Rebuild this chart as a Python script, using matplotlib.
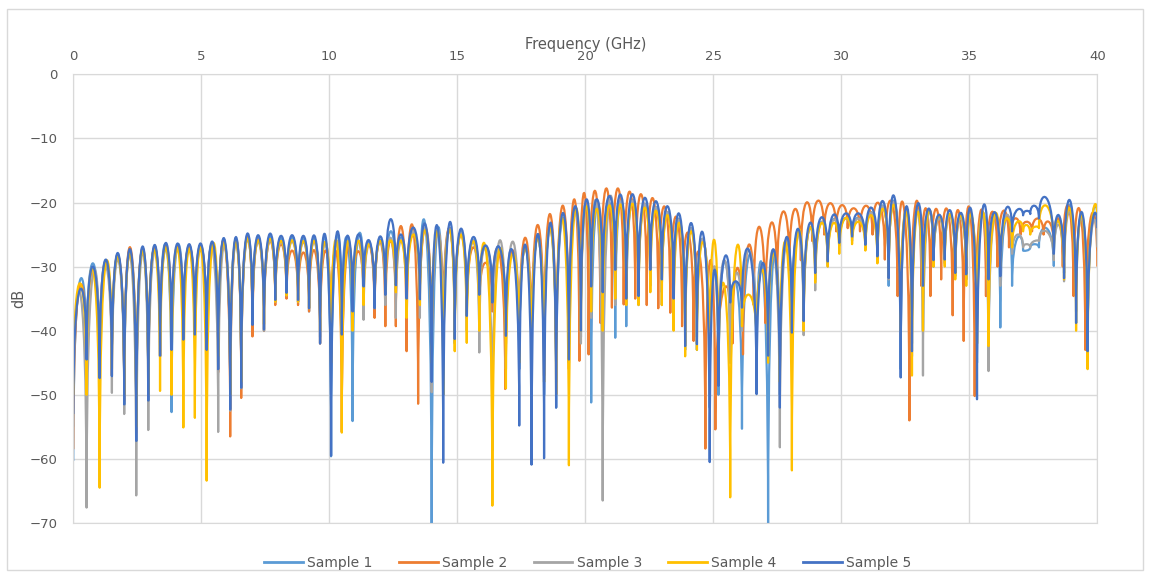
import matplotlib
matplotlib.use('Agg')
import matplotlib.pyplot as plt
from matplotlib.path import Path
from matplotlib.patches import PathPatch, Rectangle
from matplotlib.lines import Line2D

plt.rcParams['font.family'] = ['DejaVu Sans']

labels = ['Sample 1', 'Sample 2', 'Sample 3', 'Sample 4', 'Sample 5']
colors = ['#5B9BD5', '#ED7D31', '#A5A5A5', '#FFC000', '#4472C4']

# frequencies (GHz) of the nulls; samples 1, 3, 4, 5 share them
f_null = [0.00, 0.52, 1.03, 1.51, 1.99, 2.46, 2.93, 3.39, 3.84, 4.30,
          4.75, 5.21, 5.66, 6.13, 6.56, 7.00, 7.45, 7.89, 8.33, 8.78,
          9.21, 9.64, 10.07, 10.49, 10.91, 11.34, 11.77, 12.19, 12.60, 13.02,
          13.54, 14.00, 14.45, 14.90, 15.37, 15.86, 16.37, 16.90, 17.42, 17.90,
          18.39, 18.86, 19.36, 19.83, 20.23, 20.68, 21.17, 21.60, 22.08, 22.54,
          22.99, 23.45, 23.90, 24.36, 24.86, 25.20, 25.66, 26.12, 26.69, 27.14,
          27.60, 28.07, 28.53, 28.98, 29.47, 29.92, 30.42, 30.94, 31.41, 31.85,
          32.32, 32.76, 33.19, 33.60, 34.04, 34.45, 34.88, 35.30, 35.75, 36.21,
          36.67, 37.10, 37.38, 37.72, 38.30, 38.70, 39.17, 39.62, 40.00]

# sample 2 drifts a little ahead above ~13 GHz
f_null_s2 = [0.00, 0.52, 1.03, 1.51, 1.99, 2.46, 2.93, 3.39, 3.84, 4.30,
             4.75, 5.21, 5.66, 6.13, 6.56, 7.00, 7.45, 7.89, 8.33, 8.78,
             9.21, 9.64, 10.07, 10.49, 10.91, 11.34, 11.77, 12.19, 12.60, 13.02,
             13.47, 14.00, 14.45, 14.90, 15.37, 15.86, 16.37, 16.87, 17.42, 17.90,
             18.39, 18.86, 19.36, 19.77, 20.13, 20.59, 21.04, 21.50, 21.95, 22.40,
             22.85, 23.32, 23.78, 24.23, 24.69, 25.08, 25.75, 26.16, 26.58, 27.03,
             27.49, 27.97, 28.42, 28.86, 29.33, 29.80, 30.25, 30.73, 31.22, 31.70,
             32.20, 32.66, 33.12, 33.48, 33.90, 34.35, 34.78, 35.21, 35.65, 36.10,
             36.55, 37.00, 37.45, 37.90, 38.30, 38.65, 39.07, 39.53, 40.00]

# dB at each null
s1_null = [-60.3, -45.0, -47.5, -47.0, -51.6, -57.3, -51.0, -44.0, -52.7, -41.5,
           -41.0, -43.0, -46.0, -52.5, -49.0, -39.0, -40.0, -35.5, -34.5, -35.5,
           -37.0, -42.0, -59.6, -41.0, -54.1, -34.0, -37.0, -35.0, -33.0, -36.0,
           -36.0, -72.0, -50.0, -42.0, -38.0, -35.0, -36.0, -42.0, -46.0, -48.0,
           -50.0, -52.0, -45.0, -41.0, -51.2, -40.0, -41.1, -39.3, -36.0, -32.0,
           -34.0, -36.0, -43.0, -43.0, -52.0, -50.0, -45.0, -55.3, -46.0, -72.0,
           -50.0, -41.0, -39.0, -32.0, -29.5, -26.5, -25.5, -27.0, -29.0, -33.0,
           -46.0, -42.0, -40.0, -30.0, -29.0, -31.0, -32.0, -45.0, -44.0, -39.5,
           -33.0, -27.5, -27.0, -27.0, -29.9, -31.0, -38.8, -43.0, -22.5]
s2_null = [-58.5, -47.0, -47.0, -47.0, -51.0, -56.0, -50.0, -44.0, -43.5, -42.0,
           -41.0, -43.5, -46.5, -56.5, -50.5, -40.9, -40.0, -36.0, -35.0, -36.0,
           -37.0, -42.0, -42.0, -55.8, -36.0, -35.0, -38.0, -39.3, -39.3, -43.2,
           -51.4, -45.0, -42.0, -40.0, -38.0, -36.0, -37.0, -49.1, -44.0, -46.0,
           -47.0, -49.9, -46.0, -44.7, -43.7, -38.8, -36.4, -35.9, -35.0, -36.0,
           -36.5, -37.2, -39.3, -41.6, -58.4, -55.4, -42.0, -43.7, -36.0, -38.8,
           -32.8, -30.5, -29.0, -26.0, -25.0, -24.5, -24.0, -24.5, -25.0, -28.9,
           -34.6, -54.0, -33.0, -34.6, -32.0, -37.6, -41.6, -50.2, -34.6, -30.0,
           -27.0, -25.0, -24.5, -25.0, -27.0, -30.0, -34.6, -43.0, -30.0]
s3_null = [-55.0, -67.6, -47.0, -49.7, -53.0, -65.7, -55.5, -44.0, -43.0, -42.0,
           -41.0, -43.0, -55.8, -52.5, -49.0, -38.9, -40.0, -35.5, -34.5, -35.5,
           -36.5, -41.0, -45.0, -40.0, -37.0, -38.3, -36.5, -36.0, -38.0, -36.0,
           -38.0, -49.6, -45.0, -41.0, -40.0, -43.4, -58.7, -46.0, -45.0, -47.0,
           -48.0, -48.0, -45.0, -42.0, -38.0, -66.5, -36.0, -36.0, -35.0, -33.0,
           -36.0, -38.0, -42.0, -41.0, -50.0, -45.0, -45.0, -40.0, -45.0, -42.0,
           -58.2, -41.0, -40.7, -33.7, -30.0, -26.8, -26.0, -27.0, -29.0, -32.0,
           -41.0, -44.0, -47.0, -30.0, -29.5, -31.5, -32.0, -42.0, -46.3, -33.0,
           -28.0, -27.0, -27.0, -26.0, -29.0, -32.3, -37.0, -43.0, -27.0]
s4_null = [-50.0, -50.0, -64.5, -46.0, -50.0, -55.0, -50.0, -49.4, -50.0, -55.1,
           -53.6, -63.4, -44.0, -50.0, -48.0, -39.0, -39.0, -35.5, -34.5, -35.5,
           -36.5, -40.0, -45.0, -55.9, -40.0, -36.0, -36.0, -34.0, -34.0, -38.0,
           -36.0, -45.0, -50.0, -43.2, -41.9, -40.0, -67.3, -49.0, -45.0, -47.0,
           -48.0, -50.0, -61.0, -40.0, -37.0, -40.0, -35.0, -36.0, -36.0, -34.0,
           -36.0, -40.0, -44.0, -43.0, -47.0, -47.8, -66.0, -39.3, -42.0, -45.0,
           -48.0, -61.8, -40.0, -32.5, -30.0, -28.0, -26.5, -27.5, -29.5, -31.5,
           -40.0, -47.0, -40.0, -30.0, -30.0, -32.0, -33.0, -42.0, -42.4, -30.0,
           -27.0, -24.5, -25.0, -24.0, -27.0, -32.0, -40.0, -46.0, -22.5]
s5_null = [-53.0, -44.5, -47.4, -47.1, -51.5, -57.2, -50.9, -43.9, -43.0, -41.4,
           -40.6, -43.0, -46.0, -52.3, -48.9, -39.1, -39.8, -35.2, -34.1, -35.2,
           -36.5, -42.0, -59.5, -40.6, -37.0, -33.1, -36.5, -34.4, -32.9, -35.0,
           -35.1, -48.0, -60.6, -41.3, -37.7, -34.4, -35.6, -40.8, -54.8, -60.9,
           -59.9, -52.0, -44.5, -40.0, -33.1, -34.0, -30.5, -35.0, -34.6, -30.5,
           -32.0, -35.0, -42.4, -42.1, -60.5, -48.6, -35.6, -36.4, -49.9, -43.9,
           -52.0, -40.3, -38.5, -31.0, -29.2, -26.3, -25.3, -26.6, -28.4, -31.8,
           -47.3, -43.2, -33.0, -29.0, -28.9, -31.0, -31.2, -50.7, -32.0, -31.5,
           -24.5, -22.0, -21.8, -22.5, -28.0, -31.8, -38.8, -43.2, -24.0]

# dB at the top of each lobe (between two nulls)
s1_peak = [-32.2, -29.5, -29.0, -28.2, -27.6, -27.2, -27.0, -26.6, -26.7, -26.8,
           -26.7, -26.4, -25.9, -25.7, -25.4, -25.5, -25.3, -25.6, -25.5, -25.6,
           -25.6, -25.7, -25.5, -25.7, -25.5, -26.3, -25.8, -24.5, -25.5, -24.5,
           -24.2, -24.3, -24.0, -24.6, -25.9, -27.0, -27.2, -27.8, -27.0, -25.4,
           -23.8, -22.4, -21.3, -20.4, -20.3, -19.9, -19.7, -19.6, -20.2, -20.7,
           -21.5, -22.6, -24.0, -25.8, -30.5, -29.2, -32.5, -28.2, -30.0, -28.0,
           -26.2, -24.8, -24.0, -23.0, -22.6, -22.4, -22.4, -21.5, -20.5, -20.0,
           -21.2, -21.0, -21.6, -22.4, -21.8, -22.2, -22.1, -21.5, -22.1, -22.5,
           -25.5, -27.5, -26.5, -24.0, -22.5, -20.5, -22.0, -22.0]
s2_peak = [-33.0, -30.3, -29.2, -28.2, -27.0, -27.2, -27.0, -26.6, -26.7, -26.8,
           -26.7, -26.4, -26.0, -25.8, -25.5, -25.8, -26.0, -26.5, -27.5, -27.8,
           -27.5, -27.5, -27.8, -27.5, -27.6, -26.5, -26.0, -25.9, -23.7, -23.5,
           -24.0, -24.5, -24.0, -25.0, -27.0, -29.4, -27.5, -27.5, -25.5, -23.5,
           -21.8, -20.5, -19.5, -18.5, -18.2, -17.8, -17.8, -18.3, -18.7, -19.3,
           -20.6, -22.2, -24.7, -28.1, -29.0, -33.5, -30.2, -26.7, -23.8, -23.2,
           -21.4, -21.0, -20.0, -19.7, -20.1, -20.4, -20.9, -20.5, -20.1, -19.8,
           -20.4, -20.4, -20.9, -21.0, -21.0, -21.2, -20.7, -21.5, -21.5, -21.3,
           -22.5, -23.0, -22.5, -23.0, -22.5, -20.5, -21.0, -22.0]
s3_peak = [-34.0, -31.0, -29.9, -28.9, -28.3, -27.9, -27.7, -27.3, -27.4, -27.5,
           -27.4, -27.1, -26.6, -26.4, -26.0, -26.1, -25.9, -26.2, -26.1, -26.2,
           -26.2, -26.3, -26.0, -26.2, -26.0, -26.5, -26.0, -25.5, -25.8, -24.5,
           -24.2, -24.3, -24.1, -24.7, -26.0, -27.0, -26.1, -26.1, -27.0, -25.5,
           -24.0, -22.5, -21.3, -20.5, -20.5, -20.0, -19.8, -19.7, -20.3, -20.8,
           -21.5, -22.7, -24.0, -25.8, -30.0, -29.0, -31.0, -27.5, -29.5, -27.8,
           -26.3, -24.9, -24.1, -23.1, -22.7, -22.5, -22.5, -21.6, -20.6, -20.1,
           -21.4, -21.1, -21.8, -22.5, -22.0, -22.4, -22.3, -21.7, -22.3, -22.0,
           -25.0, -26.5, -26.0, -24.5, -23.5, -21.5, -22.5, -23.5]
s4_peak = [-32.6, -30.5, -29.5, -28.5, -28.0, -27.6, -27.4, -27.0, -27.1, -27.2,
           -27.1, -26.8, -26.4, -26.2, -25.8, -25.9, -25.7, -26.0, -25.9, -26.0,
           -26.0, -26.2, -26.0, -26.4, -26.0, -26.5, -26.0, -25.9, -26.0, -25.0,
           -24.5, -24.5, -24.3, -25.0, -26.0, -27.3, -27.5, -28.0, -27.2, -25.6,
           -24.0, -22.5, -21.4, -20.6, -21.0, -20.5, -20.3, -20.2, -20.8, -21.3,
           -22.0, -23.2, -24.5, -26.2, -25.8, -33.0, -27.6, -34.4, -30.5, -28.0,
           -26.3, -24.8, -24.0, -23.2, -23.2, -22.4, -23.0, -22.0, -21.0, -20.5,
           -21.5, -21.5, -21.5, -22.0, -21.8, -22.0, -22.0, -21.5, -22.0, -22.5,
           -23.0, -23.5, -23.8, -20.5, -23.0, -21.0, -22.0, -22.0]
s5_peak = [-33.6, -30.0, -28.9, -27.9, -27.3, -26.9, -26.7, -26.3, -26.4, -26.5,
           -26.4, -26.1, -25.6, -25.4, -25.0, -25.1, -24.9, -25.2, -25.1, -25.2,
           -25.2, -25.3, -25.0, -25.2, -25.0, -25.9, -25.3, -22.6, -25.0, -23.9,
           -23.6, -23.7, -23.5, -24.1, -25.4, -26.7, -26.9, -27.6, -26.6, -24.9,
           -23.2, -21.7, -20.6, -19.6, -19.5, -19.0, -18.8, -18.7, -19.3, -19.8,
           -20.6, -21.8, -23.2, -25.0, -30.7, -28.7, -32.3, -27.6, -29.5, -27.4,
           -25.6, -24.1, -23.3, -22.3, -21.9, -21.7, -21.7, -20.8, -19.8, -19.3,
           -20.6, -20.3, -21.0, -21.9, -21.2, -21.6, -21.5, -20.9, -21.5, -20.9,
           -21.1, -21.3, -20.5, -19.3, -22.0, -19.7, -21.5, -22.9]

series = [(f_null, s1_null, s1_peak), (f_null_s2, s2_null, s2_peak),
          (f_null, s3_null, s3_peak), (f_null, s4_null, s4_peak),
          (f_null, s5_null, s5_peak)]


def lobes(f, nulls, peaks):
    # one cubic bezier per lobe: vertical at the nulls, top reaches the peak value
    verts = [(f[0], nulls[0])]
    codes = [Path.MOVETO]
    for i, pk in enumerate(peaks):
        c = (pk - (nulls[i] + nulls[i + 1]) / 8) / 0.75
        verts += [(f[i], c), (f[i + 1], c), (f[i + 1], nulls[i + 1])]
        codes += [Path.CURVE4] * 3
    return Path(verts, codes)


fig = plt.figure(figsize=(11.5, 5.78), dpi=100)
fig.patches.append(Rectangle((0.006, 0.014), 0.988, 0.97, transform=fig.transFigure,
                             fill=False, edgecolor='#d9d9d9', lw=1))
ax = fig.add_axes([0.0637, 0.0952, 0.8905, 0.7762])

for (f, nulls, peaks), c in zip(series, colors):
    ax.add_patch(PathPatch(lobes(f, nulls, peaks), fill=False, edgecolor=c,
                           lw=1.6, joinstyle='round'))

ax.set_xlim(0, 40)
ax.set_ylim(-70, 0)
ax.set_xticks(range(0, 41, 5))
ax.set_yticks(range(-70, 1, 10))
ax.xaxis.tick_top()
ax.xaxis.set_label_position('top')
ax.set_axisbelow(True)
ax.grid(color='#d9d9d9', lw=1)
for s in ax.spines.values():
    s.set_color('#d9d9d9')
ax.tick_params(length=0, colors='#595959', labelsize=9.5)
ax.tick_params(axis='x', pad=8)
ax.tick_params(axis='y', pad=11)
ax.set_xlabel('Frequency (GHz)', fontsize=10.5, color='#595959', labelpad=1)
ax.set_ylabel('dB', fontsize=10.5, color='#595959', labelpad=3)

handles = [Line2D([], [], color=c, lw=2) for c in colors]
fig.legend(handles, labels, loc='center', bbox_to_anchor=(0.511, 0.026), ncol=5,
           frameon=False, fontsize=10, handlelength=2.8, handletextpad=0.3,
           columnspacing=1.9, labelcolor='#595959')

plt.savefig('out.png', dpi=100)
